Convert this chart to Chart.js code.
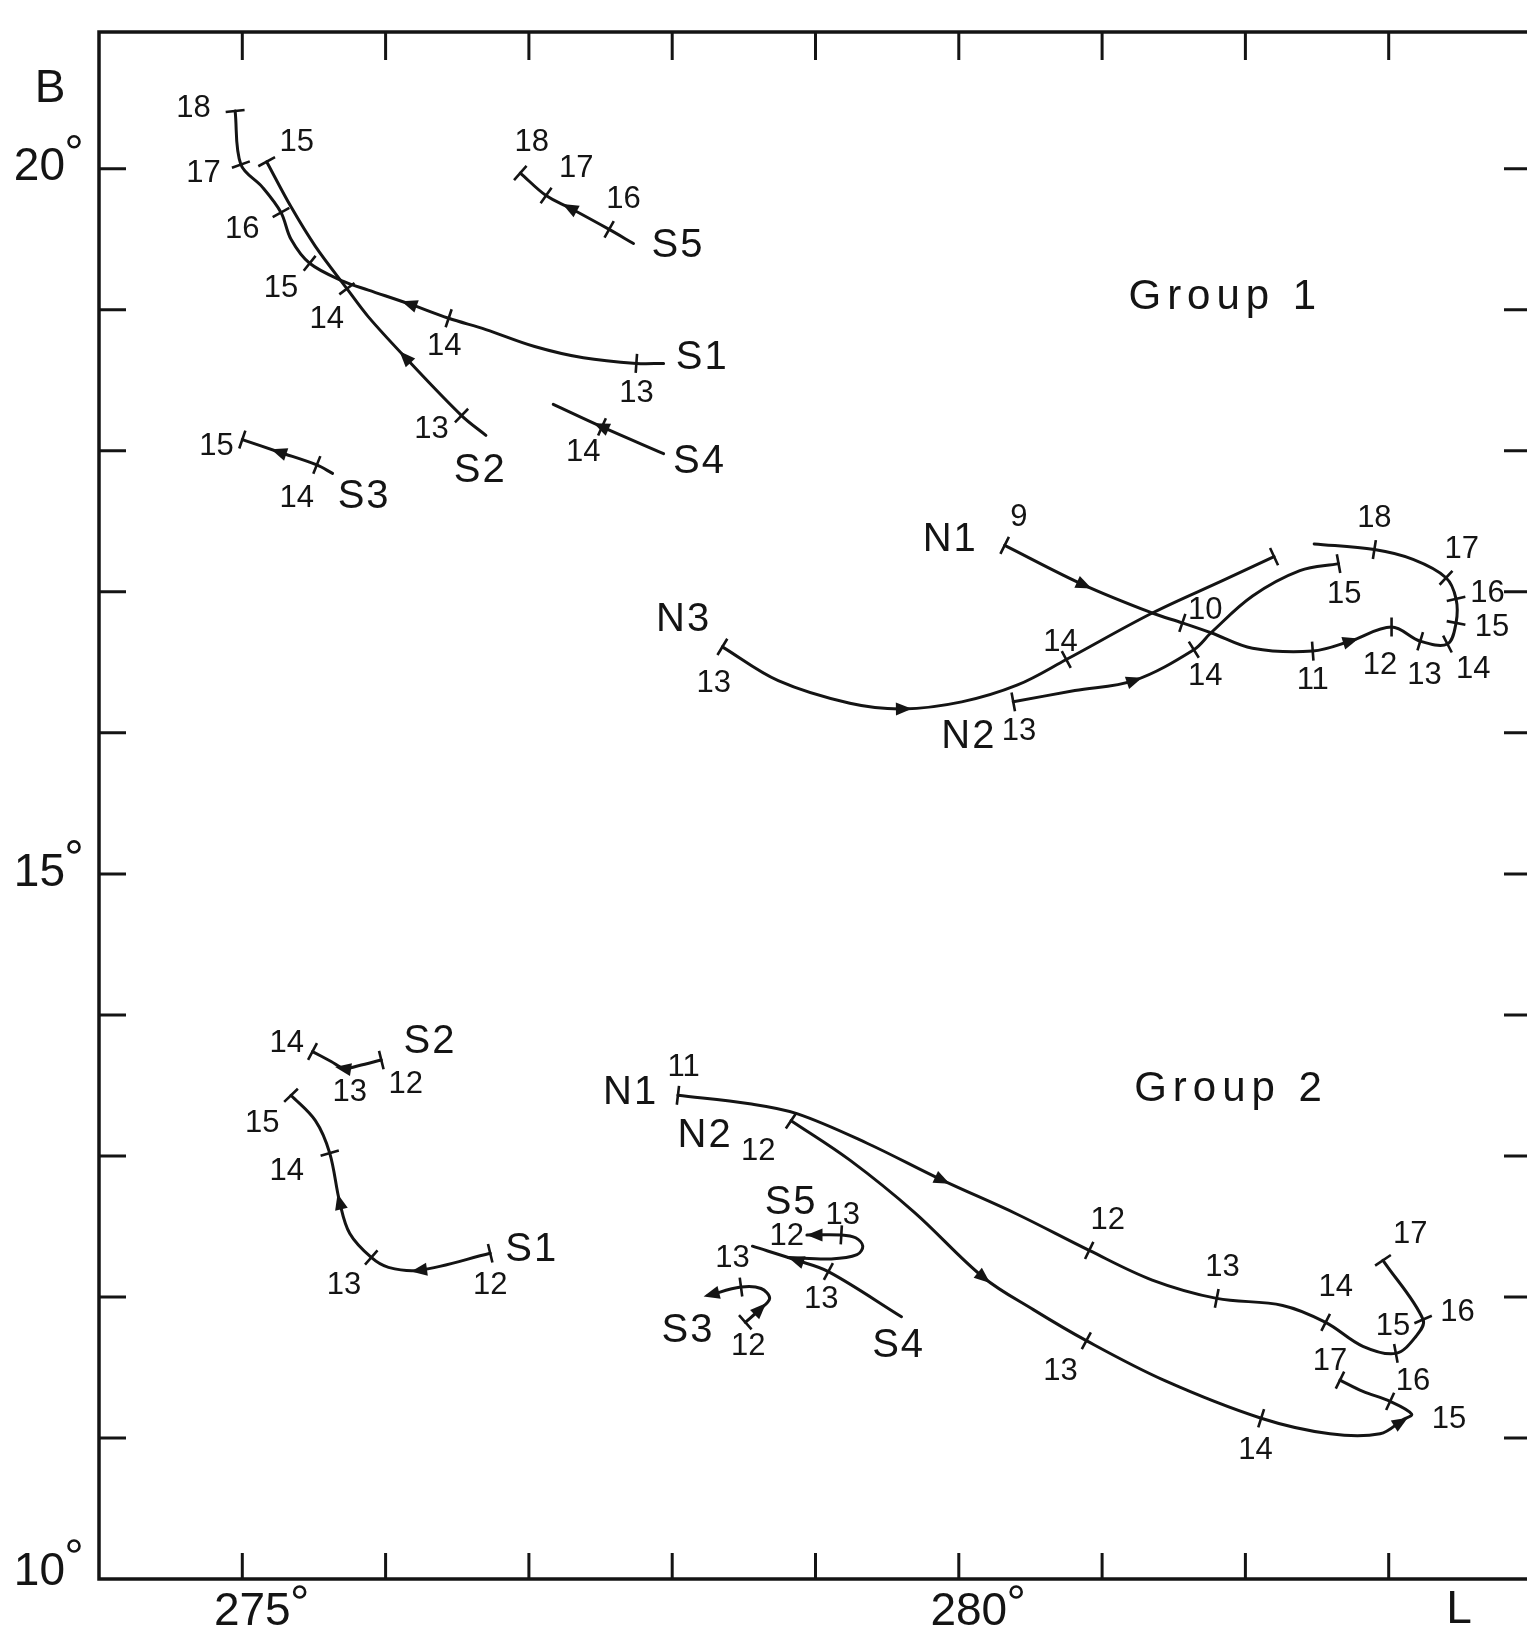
<!DOCTYPE html>
<html>
<head>
<meta charset="utf-8">
<script src="https://cdn.jsdelivr.net/npm/chart.js@4.4.1/dist/chart.umd.min.js"></script>
<style>
  html, body { margin: 0; padding: 0; background: #fff; overflow: hidden; }
  #wrap { position: relative; width: 1527px; height: 1631px; overflow: hidden; }
  canvas { position: absolute; left: 0; top: 0; }
</style>
</head>
<body>
<div id="wrap"><canvas id="chart" width="1550" height="1631"></canvas></div>
<script>
/* AXES: longitude L (deg), latitude B (deg) */
const lonTicks = [275, 276, 277, 278, 279, 280, 281, 282, 283];
const latTicks = [11, 12, 13, 14, 15, 16, 17, 18, 19, 20];
const lonLabels = [275, 280];
const latLabels = [10, 15, 20];

/* GROUP 1 TRACKS: [L, B] in time order */
const g1S1 = [[277.94,18.62],[277.75,18.62],[277.38,18.66],[277.04,18.74],[276.70,18.86],[276.44,18.94],[276.17,19.04],[275.88,19.14],[275.71,19.20],[275.47,19.33],[275.34,19.50],[275.27,19.69],[275.14,19.87],[274.99,20.03],[274.95,20.41]];
const g1S1Ticks = [[277.75,18.62],[276.44,18.94],[275.47,19.33],[275.27,19.69],[274.99,20.03],[274.95,20.41]];
const g1S1Arrows = [[276.17,19.04]];
const g1S1Hours = [[277.75,18.41,'13'],[276.41,18.74,'14'],[275.27,19.15,'15'],[275.00,19.57,'16'],[274.73,19.97,'17'],[274.66,20.43,'18']];

const g1S2 = [[276.70,18.11],[276.53,18.25],[276.14,18.66],[275.88,18.95],[275.73,19.15],[275.51,19.45],[275.34,19.73],[275.17,20.05]];
const g1S2Ticks = [[276.53,18.25],[275.73,19.15],[275.17,20.05]];
const g1S2Arrows = [[276.14,18.66]];
const g1S2Hours = [[276.32,18.15,'13'],[275.59,18.93,'14'],[275.38,20.19,'15']];

const g1S3 = [[275.63,17.84],[275.52,17.90],[275.26,17.99],[275.00,18.08]];
const g1S3Ticks = [[275.52,17.90],[275.00,18.08]];
const g1S3Arrows = [[275.26,17.99]];
const g1S3Hours = [[274.82,18.03,'15'],[275.38,17.66,'14']];

const g1S4 = [[277.94,17.98],[277.51,18.17],[277.17,18.33]];
const g1S4Ticks = [[277.51,18.17]];
const g1S4Arrows = [[277.51,18.17]];
const g1S4Hours = [[277.38,17.99,'14']];

const g1S5 = [[277.73,19.47],[277.56,19.57],[277.29,19.72],[277.12,19.81],[276.94,19.97]];
const g1S5Ticks = [[277.56,19.57],[277.12,19.81],[276.94,19.97]];
const g1S5Arrows = [[277.29,19.72]];
const g1S5Hours = [[277.02,20.19,'18'],[277.33,20.00,'17'],[277.66,19.78,'16']];

const g1N1 = [[280.32,17.33],[280.87,17.05],[281.35,16.85],[281.56,16.78],[281.76,16.71],[282.05,16.60],[282.47,16.58],[282.73,16.65],[283.02,16.75],[283.22,16.65],[283.41,16.63],[283.47,16.78],[283.47,16.95],[283.40,17.10],[283.17,17.23],[282.90,17.30],[282.48,17.34]];
const g1N1Ticks = [[280.32,17.33],[281.56,16.78],[282.47,16.58],[283.02,16.75],[283.22,16.65],[283.41,16.63],[283.47,16.78],[283.47,16.95],[283.40,17.10],[282.90,17.30]];
const g1N1Arrows = [[280.87,17.05],[282.73,16.65]];
const g1N1Hours = [[280.42,17.53,'9'],[281.72,16.87,'10'],[282.47,16.37,'11'],[282.94,16.48,'12'],[283.25,16.41,'13'],[283.59,16.45,'14'],[283.72,16.75,'15'],[283.69,16.99,'16'],[283.51,17.30,'17'],[282.90,17.52,'18']];

const g1N2 = [[280.38,16.22],[280.81,16.30],[281.22,16.37],[281.64,16.59],[281.76,16.71],[282.05,16.97],[282.38,17.15],[282.65,17.20]];
const g1N2Ticks = [[280.38,16.22],[281.64,16.59],[282.65,17.20]];
const g1N2Arrows = [[281.22,16.37]];
const g1N2Hours = [[280.42,16.01,'13'],[281.72,16.40,'14'],[282.69,16.98,'15']];

const g1N3 = [[278.35,16.61],[278.74,16.37],[279.24,16.21],[279.61,16.17],[280.02,16.22],[280.41,16.34],[280.75,16.52],[281.35,16.85],[281.84,17.08],[282.20,17.25]];
const g1N3Ticks = [[278.35,16.61],[280.75,16.52],[282.20,17.25]];
const g1N3Arrows = [[279.61,16.17]];
const g1N3Hours = [[278.29,16.35,'13'],[280.71,16.64,'14']];

const g1Names = [[278.21,18.66,'S1'],[276.66,17.86,'S2'],[275.85,17.67,'S3'],[278.19,17.92,'S4'],[278.04,19.45,'S5'],[279.94,17.37,'N1'],[280.07,15.97,'N2'],[278.08,16.80,'N3']];

/* GROUP 2 TRACKS */
const g2S1 = [[276.73,12.31],[276.24,12.19],[276.02,12.21],[275.90,12.28],[275.75,12.45],[275.68,12.67],[275.61,13.02],[275.51,13.25],[275.34,13.43]];
const g2S1Ticks = [[276.73,12.31],[275.90,12.28],[275.61,13.02],[275.34,13.43]];
const g2S1Arrows = [[276.24,12.19],[275.68,12.67]];
const g2S1Hours = [[276.73,12.08,'12'],[275.71,12.08,'13'],[275.31,12.89,'14'],[275.14,13.23,'15']];

const g2S2 = [[275.97,13.68],[275.81,13.64],[275.71,13.62],[275.62,13.67],[275.49,13.74]];
const g2S2Ticks = [[275.97,13.68],[275.49,13.74]];
const g2S2Arrows = [[275.71,13.62]];
const g2S2Hours = [[275.31,13.80,'14'],[275.75,13.45,'13'],[276.14,13.51,'12']];

const g2S3 = [[278.51,11.82],[278.61,11.91],[278.68,11.99],[278.62,12.06],[278.48,12.07],[278.25,12.01]];
const g2S3Ticks = [[278.51,11.82],[278.48,12.07]];
const g2S3Arrows = [[278.61,11.91],[278.28,12.02]];
const g2S3Hours = [[278.53,11.65,'12'],[278.42,12.27,'13']];

const g2S4 = [[279.60,11.86],[279.09,12.18],[278.87,12.26],[278.56,12.36]];
const g2S4Ticks = [[279.09,12.18]];
const g2S4Arrows = [[278.87,12.26]];
const g2S4Hours = [[279.04,11.98,'13']];

const g2S5 = [[278.81,12.28],[279.11,12.27],[279.29,12.30],[279.33,12.36],[279.28,12.42],[279.18,12.44],[278.94,12.44]];
const g2S5Ticks = [[279.18,12.44]];
const g2S5Arrows = [[279.00,12.44]];
const g2S5Hours = [[279.19,12.58,'13'],[278.80,12.43,'12']];

const g2N1 = [[278.04,13.43],[278.54,13.37],[278.87,13.30],[279.36,13.09],[279.88,12.83],[280.40,12.59],[280.91,12.33],[281.35,12.12],[281.80,11.99],[282.26,11.94],[282.56,11.82],[282.82,11.65],[283.05,11.60],[283.19,11.72],[283.24,11.84],[282.96,12.26]];
const g2N1Ticks = [[278.04,13.43],[280.91,12.33],[281.80,11.99],[282.56,11.82],[283.05,11.60],[283.24,11.84],[282.96,12.26]];
const g2N1Arrows = [[279.88,12.83]];
const g2N1Hours = [[278.08,13.63,'11'],[281.04,12.54,'12'],[281.84,12.21,'13'],[282.63,12.07,'14'],[283.03,11.79,'15'],[283.48,11.89,'16'],[283.15,12.44,'17']];

const g2N2 = [[278.83,13.25],[279.24,12.97],[279.69,12.60],[280.17,12.14],[280.52,11.91],[280.89,11.69],[281.43,11.41],[282.11,11.14],[282.59,11.03],[282.94,11.03],[283.10,11.13],[283.16,11.17],[283.01,11.26],[282.82,11.33],[282.66,11.41]];
const g2N2Ticks = [[278.83,13.25],[280.89,11.69],[282.11,11.14],[283.01,11.26],[282.66,11.41]];
const g2N2Arrows = [[280.17,12.14],[283.08,11.11]];
const g2N2Hours = [[278.60,13.03,'12'],[280.71,11.47,'13'],[282.07,10.91,'14'],[283.42,11.13,'15'],[283.17,11.40,'16'],[282.59,11.54,'17']];

const g2Names = [[277.02,12.33,'S1'],[276.31,13.81,'S2'],[278.11,11.76,'S3'],[279.58,11.65,'S4'],[278.83,12.67,'S5'],[277.71,13.45,'N1'],[278.23,13.14,'N2']];

const groupTitles = [[281.86,19.09,'Group 1'],[281.90,13.47,'Group 2']];

/* TABLE */
const tracks = [
    { path: g1S1, ticks: g1S1Ticks, arrows: g1S1Arrows, hours: g1S1Hours },
    { path: g1S2, ticks: g1S2Ticks, arrows: g1S2Arrows, hours: g1S2Hours },
    { path: g1S3, ticks: g1S3Ticks, arrows: g1S3Arrows, hours: g1S3Hours },
    { path: g1S4, ticks: g1S4Ticks, arrows: g1S4Arrows, hours: g1S4Hours },
    { path: g1S5, ticks: g1S5Ticks, arrows: g1S5Arrows, hours: g1S5Hours },
    { path: g1N1, ticks: g1N1Ticks, arrows: g1N1Arrows, hours: g1N1Hours },
    { path: g1N2, ticks: g1N2Ticks, arrows: g1N2Arrows, hours: g1N2Hours },
    { path: g1N3, ticks: g1N3Ticks, arrows: g1N3Arrows, hours: g1N3Hours },
    { path: g2S1, ticks: g2S1Ticks, arrows: g2S1Arrows, hours: g2S1Hours },
    { path: g2S2, ticks: g2S2Ticks, arrows: g2S2Arrows, hours: g2S2Hours },
    { path: g2S3, ticks: g2S3Ticks, arrows: g2S3Arrows, hours: g2S3Hours },
    { path: g2S4, ticks: g2S4Ticks, arrows: g2S4Arrows, hours: g2S4Hours },
    { path: g2S5, ticks: g2S5Ticks, arrows: g2S5Arrows, hours: g2S5Hours },
    { path: g2N1, ticks: g2N1Ticks, arrows: g2N1Arrows, hours: g2N1Hours },
    { path: g2N2, ticks: g2N2Ticks, arrows: g2N2Arrows, hours: g2N2Hours }
];

const INK = '#141414';
const FONT = '"Liberation Sans", "DejaVu Sans", Arial, sans-serif';

/* direction of the path near a pixel point */
function dirAt(pts, q) {
    // on a vertex: use neighbours
    for (let j = 0; j < pts.length; j++) {
        if (Math.hypot(pts[j][0] - q[0], pts[j][1] - q[1]) < 2) {
            let a = pts[Math.max(0, j - 1)], b = pts[Math.min(pts.length - 1, j + 1)];
            let dx = b[0] - a[0], dy = b[1] - a[1], l = Math.hypot(dx, dy) || 1;
            return [dx / l, dy / l];
        }
    }
    let best = Infinity, dir = [1, 0];
    for (let i = 0; i < pts.length - 1; i++) {
        let [x1, y1] = pts[i], [x2, y2] = pts[i + 1];
        let dx = x2 - x1, dy = y2 - y1, len2 = dx * dx + dy * dy || 1;
        let t = Math.max(0, Math.min(1, ((q[0] - x1) * dx + (q[1] - y1) * dy) / len2));
        let ex = x1 + t * dx - q[0], ey = y1 + t * dy - q[1];
        let d = ex * ex + ey * ey;
        if (d < best) { best = d; let l = Math.sqrt(len2); dir = [dx / l, dy / l]; }
    }
    return dir;
}

function ring(ctx, x, y) {
    ctx.beginPath();
    ctx.arc(x, y, 5.5, 0, Math.PI * 2);
    ctx.lineWidth = 2.6;
    ctx.stroke();
}

/* OVERLAY: frame, inward ticks, hour marks, arrows, text */
const overlay = {
    id: 'overlay',
    afterDatasetsDraw(chart) {
        let ctx = chart.ctx, xs = chart.scales.x, ys = chart.scales.y, a = chart.chartArea;
        let px = p => [xs.getPixelForValue(p[0]), ys.getPixelForValue(p[1])];
        ctx.save();
        ctx.strokeStyle = INK;
        ctx.fillStyle = INK;
        ctx.lineCap = 'butt';

        // frame (right side falls just outside the page, as in the scan)
        ctx.lineWidth = 3.5;
        ctx.strokeRect(a.left, a.top, a.right - a.left, a.bottom - a.top);

        // inward axis ticks
        ctx.lineWidth = 3;
        ctx.beginPath();
        lonTicks.forEach(v => {
            let x = xs.getPixelForValue(v);
            ctx.moveTo(x, a.top); ctx.lineTo(x, a.top + 28);
            ctx.moveTo(x, a.bottom); ctx.lineTo(x, a.bottom - 26);
        });
        latTicks.forEach(v => {
            let y = ys.getPixelForValue(v);
            ctx.moveTo(a.left, y); ctx.lineTo(a.left + 27, y);
            ctx.moveTo(a.right, y); ctx.lineTo(a.right - 28, y);
        });
        ctx.stroke();

        // axis labels
        ctx.font = '46px ' + FONT;
        ctx.textBaseline = 'middle';
        ctx.textAlign = 'right';
        latLabels.forEach(v => {
            let y = ys.getPixelForValue(v) - (v === 10 ? 7 : 1);
            let x = a.left - 34;
            ctx.fillText(String(v), x, y);
            ring(ctx, x + 9, y - 26);
        });
        ctx.textAlign = 'center';
        lonLabels.forEach(v => {
            let x = xs.getPixelForValue(v) + 10;
            let y = a.bottom + 33;
            ctx.fillText(String(v), x, y);
            let w = ctx.measureText(String(v)).width;
            ring(ctx, x + w / 2 + 9, y - 20);
        });
        ctx.fillText('B', a.left - 49, a.top + 57);
        ctx.fillText('L', xs.getPixelForValue(283.49), a.bottom + 31);

        // hour marks, arrows, hour numbers
        ctx.font = '31px ' + FONT;
        tracks.forEach(t => {
            let pts = t.path.map(px);
            ctx.lineWidth = 2.6;
            ctx.beginPath();
            t.ticks.forEach(p => {
                let q = px(p), d = dirAt(pts, q), h = 9.5;
                ctx.moveTo(q[0] - d[1] * h, q[1] + d[0] * h);
                ctx.lineTo(q[0] + d[1] * h, q[1] - d[0] * h);
            });
            ctx.stroke();
            t.arrows.forEach(p => {
                let q = px(p), d = dirAt(pts, q);
                let tip = [q[0] + d[0] * 9, q[1] + d[1] * 9];
                let b = [q[0] - d[0] * 7, q[1] - d[1] * 7];
                ctx.beginPath();
                ctx.moveTo(tip[0], tip[1]);
                ctx.lineTo(b[0] - d[1] * 6.5, b[1] + d[0] * 6.5);
                ctx.lineTo(b[0] + d[1] * 6.5, b[1] - d[0] * 6.5);
                ctx.closePath();
                ctx.fill();
            });
            t.hours.forEach(p => {
                let q = px(p);
                ctx.fillText(p[2], q[0], q[1]);
            });
        });

        // track names
        ctx.font = '40px ' + FONT;
        ctx.letterSpacing = '2px';
        g1Names.concat(g2Names).forEach(p => {
            let q = px(p);
            ctx.fillText(p[2], q[0], q[1]);
        });

        // group titles
        ctx.font = '42px ' + FONT;
        ctx.letterSpacing = '6px';
        groupTitles.forEach(p => {
            let q = px(p);
            ctx.fillText(p[2], q[0], q[1]);
        });
        ctx.restore();
    }
};

/* CHART */
let ctx = document.getElementById('chart').getContext('2d');

let chart = new Chart(ctx, {
    type: 'scatter',
    data: {
        datasets: tracks.map(t => ({
            data: t.path.map(p => ({ x: p[0], y: p[1] })),
            showLine: true,
            borderColor: INK,
            borderWidth: 3,
            borderCapStyle: 'round',
            borderJoinStyle: 'round',
            pointRadius: 0,
            tension: 0.35,
            fill: false
        }))
    },
    options: {
        responsive: false,
        animation: false,
        devicePixelRatio: 1,
        layout: { padding: { left: 99, right: 18, top: 32, bottom: 52 } },
        plugins: { legend: { display: false }, tooltip: { enabled: false } },
        scales: {
            x: { type: 'linear', min: 274, max: 284, display: false },
            y: { type: 'linear', min: 10, max: 20.97, display: false }
        }
    },
    plugins: [overlay]
});
</script>
</body>
</html>
